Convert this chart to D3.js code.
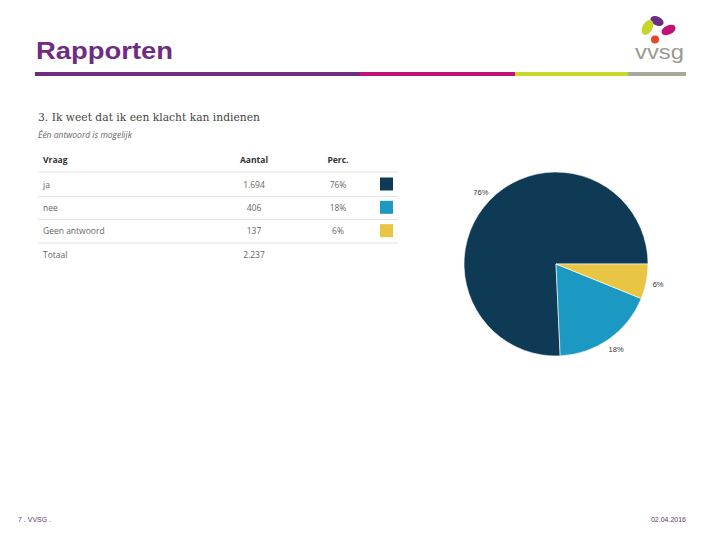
<!DOCTYPE html>
<html>
<head>
<meta charset="utf-8">
<script src="https://cdn.jsdelivr.net/npm/d3@7"></script>
<style>
  html, body { margin: 0; padding: 0; background: #fff; }
  svg { display: block; }
</style>
</head>
<body>
<svg id="chart" width="720" height="540"></svg>
<script>
// ---- data ----
const pageTitle = "Rapporten";
const questionTitle = "3. Ik weet dat ik een klacht kan indienen";
const questionSubtitle = "Één antwoord is mogelijk";
const columnHeaders = ["Vraag", "Aantal", "Perc."];
const categories = ["ja", "nee", "Geen antwoord"];
const counts = [1694, 406, 137];
const totalLabel = "Totaal";
const sliceColors = ["#0e3a55", "#1b99c2", "#e9c545"];
const footerLeft = "7 . VVSG .";
const footerRight = "02.04.2016";
const stripeColors = ["#6f2c80", "#c2127a", "#c9d72a", "#a8a89c"];
const stripeStops = [35, 360, 515, 628, 686];

const svg = d3.select("#chart");
const nl = d3.formatLocale({decimal: ",", thousands: ".", grouping: [3], currency: ["€", ""]});
const fmtCount = nl.format(",d");
const total = d3.sum(counts);
const pct = counts.map(c => Math.round(c / total * 100) + "%");

// ---- header ----
svg.append("text")
  .attr("x", 36).attr("y", 59)
  .attr("font-family", "Liberation Sans, Arial, sans-serif")
  .attr("font-weight", "bold").attr("font-size", 23)
  .attr("fill", "#6f2c80")
  .attr("textLength", 137).attr("lengthAdjust", "spacingAndGlyphs")
  .text(pageTitle);

svg.selectAll("rect.stripe").data(stripeColors).join("rect")
  .attr("class", "stripe")
  .attr("x", (d, i) => stripeStops[i])
  .attr("width", (d, i) => stripeStops[i + 1] - stripeStops[i])
  .attr("y", 72).attr("height", 4)
  .attr("fill", d => d);

// logo
const logo = svg.append("g");
logo.append("ellipse").attr("cx", 657).attr("cy", 21).attr("rx", 7).attr("ry", 4.5)
  .attr("transform", "rotate(25,657,21)").attr("fill", "#6b2e83");
logo.append("ellipse").attr("cx", 647.5).attr("cy", 27.5).attr("rx", 5).attr("ry", 8)
  .attr("transform", "rotate(30,647.5,27.5)").attr("fill", "#c5d52a");
logo.append("ellipse").attr("cx", 668.5).attr("cy", 30).attr("rx", 7.5).attr("ry", 4.5)
  .attr("transform", "rotate(-25,668.5,30)").attr("fill", "#c2127a");
logo.append("circle").attr("cx", 655).attr("cy", 39.5).attr("r", 4).attr("fill", "#e8452a");
logo.append("text").attr("x", 635).attr("y", 59)
  .attr("font-family", "Liberation Sans, Arial, sans-serif")
  .attr("font-size", 21).attr("fill", "#9a9a90")
  .attr("textLength", 49).attr("lengthAdjust", "spacingAndGlyphs")
  .text("vvsg");

// ---- table ----
const tbl = svg.append("g").attr("font-family", "Open Sans, sans-serif");
tbl.append("text").attr("x", 38).attr("y", 121)
  .attr("font-family", "DejaVu Serif, serif").attr("font-size", 11.5)
  .attr("fill", "#444")
  .attr("textLength", 222).attr("lengthAdjust", "spacingAndGlyphs")
  .text(questionTitle);
tbl.append("text").attr("x", 38).attr("y", 138)
  .attr("font-style", "italic").attr("font-size", 8.5).attr("fill", "#666")
  .text(questionSubtitle);

const colX = [43, 254, 338];
const colAnchor = ["start", "middle", "middle"];
tbl.selectAll("text.hdr").data(columnHeaders).join("text")
  .attr("class", "hdr")
  .attr("x", (d, i) => colX[i]).attr("y", 163)
  .attr("text-anchor", (d, i) => colAnchor[i])
  .attr("font-size", 8.5).attr("font-weight", "bold").attr("fill", "#333")
  .text(d => d);

const rowY = d3.scalePoint().domain(d3.range(categories.length + 1)).range([184, 254]);
const lineYs = [172, 196.5, 219.5, 243];
tbl.selectAll("line.sep").data(lineYs).join("line")
  .attr("class", "sep")
  .attr("x1", 38).attr("x2", 398)
  .attr("y1", d => d).attr("y2", d => d)
  .attr("stroke", "#e4e4e4").attr("stroke-width", 1);

const rows = categories.map((c, i) => ({cat: c, count: counts[i], pct: pct[i], color: sliceColors[i], i}));
const rg = tbl.selectAll("g.row").data(rows).join("g").attr("class", "row")
  .attr("transform", d => `translate(0,${rowY(d.i)})`);
rg.append("text").attr("x", colX[0]).attr("y", 3.5).attr("font-size", 8.5).attr("fill", "#666").text(d => d.cat);
rg.append("text").attr("x", colX[1]).attr("y", 3.5).attr("text-anchor", "middle").attr("font-size", 8.5).attr("fill", "#666").text(d => fmtCount(d.count));
rg.append("text").attr("x", colX[2]).attr("y", 3.5).attr("text-anchor", "middle").attr("font-size", 8.5).attr("fill", "#666").text(d => d.pct);
rg.append("rect").attr("x", 380).attr("y", -6.5).attr("width", 13).attr("height", 13).attr("fill", d => d.color);

const totY = rowY(categories.length);
tbl.append("text").attr("x", colX[0]).attr("y", totY + 3.5).attr("font-size", 8.5).attr("fill", "#666").text(totalLabel);
tbl.append("text").attr("x", colX[1]).attr("y", totY + 3.5).attr("text-anchor", "middle").attr("font-size", 8.5).attr("fill", "#666").text(fmtCount(total));

// ---- pie ----
const cx = 556, cy = 264, R = 92;
const pie = d3.pie().sort(null).value(d => d.count)
  .startAngle(Math.PI / 2).endAngle(Math.PI / 2 - 2 * Math.PI);
const arcs = pie(rows);
const arc = d3.arc().innerRadius(0).outerRadius(R);
const labelArc = d3.arc().innerRadius(104).outerRadius(104);
const pg = svg.append("g").attr("transform", `translate(${cx},${cy})`);
pg.selectAll("path").data(arcs).join("path")
  .attr("d", arc).attr("fill", d => d.data.color)
  .attr("stroke", "#fff").attr("stroke-width", 0.6);
pg.selectAll("text").data(arcs).join("text")
  .attr("transform", d => `translate(${labelArc.centroid(d)})`)
  .attr("text-anchor", "middle").attr("dy", "0.35em")
  .attr("font-family", "Liberation Sans, Arial, sans-serif")
  .attr("font-size", 7.5).attr("fill", "#333")
  .text(d => d.data.pct);

// ---- footer ----
svg.append("text").attr("x", 18).attr("y", 522)
  .attr("font-family", "Liberation Sans, Arial, sans-serif").attr("font-size", 7)
  .attr("fill", "#5a3a6a").text(footerLeft);
svg.append("text").attr("x", 686).attr("y", 522).attr("text-anchor", "end")
  .attr("font-family", "Liberation Sans, Arial, sans-serif").attr("font-size", 7)
  .attr("fill", "#5a3a6a").text(footerRight);
</script>
</body>
</html>
